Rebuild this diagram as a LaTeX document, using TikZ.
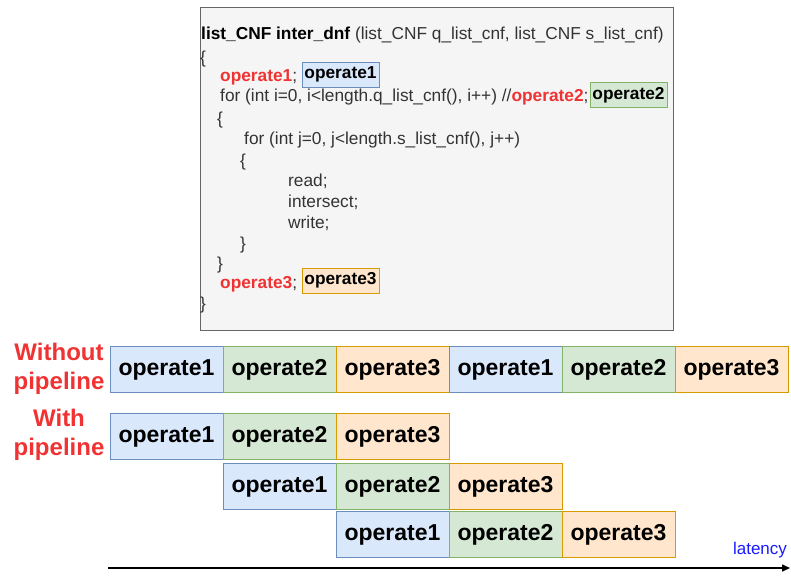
\documentclass[tikz,border=0pt]{standalone}
\usepackage{fontspec}
\setmainfont{Liberation Sans}
\usepackage{xcolor}
\usetikzlibrary{positioning,arrows.meta}
\definecolor{bluefill}{RGB}{218,232,252}
\definecolor{blueedge}{RGB}{108,142,191}
\definecolor{greenfill}{RGB}{213,232,212}
\definecolor{greenedge}{RGB}{130,179,102}
\definecolor{orangefill}{RGB}{255,230,204}
\definecolor{orangeedge}{RGB}{215,155,0}
\definecolor{codegray}{RGB}{245,245,245}
\definecolor{codeedge}{RGB}{102,102,102}
\definecolor{codetext}{RGB}{51,51,51}
\definecolor{redtext}{RGB}{240,50,50}
\definecolor{latblue}{RGB}{26,26,255}

\begin{document}
\begin{tikzpicture}[x=1pt, y=-1pt,
    opbox/.style={draw=#1edge, fill=#1fill, line width=1pt, minimum width=113pt, minimum height=46pt, inner sep=0pt, outer sep=0pt, font=\fontsize{23}{27}\selectfont\bfseries},
    smallbox/.style={draw=#1edge, fill=#1fill, line width=0.8pt, minimum width=77pt, minimum height=25pt, inner sep=0pt, font=\fontsize{17.3}{20}\selectfont\bfseries},
    code/.style={anchor=base west, inner sep=0pt, text=codetext, font=\fontsize{17.3}{20}\selectfont},
    lbl/.style={text=redtext, align=center, font=\fontsize{24}{29}\selectfont\bfseries}]
    \useasboundingbox (0,0) rectangle (791,576);

    \node[draw=codeedge, fill=codegray, line width=1pt, minimum width=473pt, minimum height=323pt, anchor=north west, inner sep=0pt] (codebox) at (200,7) {};
    \node[code] (c1) at (201,39) {\textcolor{black}{\textbf{list\_CNF inter\_dnf}} (list\_CNF q\_list\_cnf, list\_CNF s\_list\_cnf)};
    \node[code] (c2) at (200,63) {\{};
    \node[code] (c3) at (220,81) {\textcolor{redtext}{\textbf{operate1}};};
    \node[smallbox=blue] (s1) at (340.5,74.5) {operate1};
    \node[code] (c4) at (220,101) {for (int i=0, i<length.q\_list\_cnf(), i++) //\textcolor{redtext}{\textbf{operate2}};};
    \node[smallbox=green] (s2) at (628.5,95) {operate2};
    \node[code] (c5) at (217,124) {\{};
    \node[code] (c6) at (244,144) {for (int j=0, j<length.s\_list\_cnf(), j++)};
    \node[code] (c7) at (240,166) {\{};
    \node[code] (c8) at (288,186) {read;};
    \node[code] (c9) at (288,207) {intersect;};
    \node[code] (c10) at (288,228) {write;};
    \node[code] (c11) at (240,249) {\}};
    \node[code] (c12) at (217,269) {\}};
    \node[code] (c13) at (220,288) {\textcolor{redtext}{\textbf{operate3}};};
    \node[smallbox=orange] (s3) at (340.5,280.5) {operate3};
    \node[code] (c14) at (200,309) {\}};

    \node[lbl] (nopipe) at (59,369) {Without\\pipeline};
    \node[lbl] (pipe) at (59,435) {With\\pipeline};

    \node[opbox=blue] (n1) at (166.5,369.5) {operate1};
    \node[opbox=green, right=0pt of n1] (n2) {operate2};
    \node[opbox=orange, right=0pt of n2] (n3) {operate3};
    \node[opbox=blue, right=0pt of n3] (n4) {operate1};
    \node[opbox=green, right=0pt of n4] (n5) {operate2};
    \node[opbox=orange, right=0pt of n5] (n6) {operate3};

    \node[opbox=blue, below=21pt of n1] (p1) {operate1};
    \node[opbox=green, right=0pt of p1] (p2) {operate2};
    \node[opbox=orange, right=0pt of p2] (p3) {operate3};

    \node[opbox=blue, below=4pt of p2] (q1) {operate1};
    \node[opbox=green, right=0pt of q1] (q2) {operate2};
    \node[opbox=orange, right=0pt of q2] (q3) {operate3};

    \node[opbox=blue, below=2pt of q2] (r1) {operate1};
    \node[opbox=green, right=0pt of r1] (r2) {operate2};
    \node[opbox=orange, right=0pt of r2] (r3) {operate3};

    \node[text=latblue, font=\fontsize{17}{20}\selectfont] (lat) at (760,550) {latency};
    \coordinate (t0) at (108,568);
    \coordinate (t1) at (790,568);
    \draw[line width=1.5pt, -{Triangle[length=8pt,width=7pt]}] (t0) -- (t1);
\end{tikzpicture}
\end{document}
